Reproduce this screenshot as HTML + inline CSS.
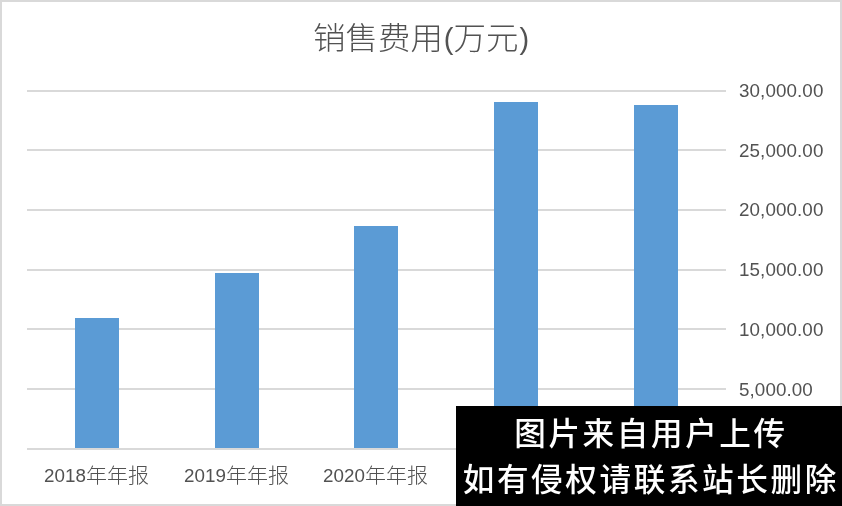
<!DOCTYPE html>
<html lang="zh-CN">
<head>
<meta charset="utf-8">
<title>销售费用(万元)</title>
<style>
html,body{margin:0;padding:0;background:#fff;}
body{width:842px;height:506px;overflow:hidden;position:relative;}
#chart{position:absolute;left:0;top:0;width:842px;height:506px;box-sizing:border-box;border:2px solid #d9d9d9;background:#fff;overflow:hidden;}
.grid{position:absolute;left:27px;width:699px;height:2px;background:#d9d9d9;}
.bar{position:absolute;width:44px;background:#5b9bd5;}
.ylab{position:absolute;left:739px;font-family:"Liberation Sans",sans-serif;font-size:18.8px;letter-spacing:0.1px;line-height:20px;color:#525252;white-space:nowrap;}
.xlab{position:absolute;top:462px;width:160px;text-align:center;color:#525252;white-space:nowrap;line-height:26px;font-size:0;}
.xlab .n{font-family:"Liberation Sans",sans-serif;font-size:18.8px;font-weight:400;display:inline-block;vertical-align:baseline;}
.xlab .c{font-family:"Liberation Sans","Noto Sans CJK SC",sans-serif;font-size:21px;font-weight:300;display:inline-block;vertical-align:baseline;transform:scaleY(0.95);transform-origin:50% 78%;position:relative;top:0.6px;}
#title{position:absolute;left:0;top:16px;width:842px;text-align:center;color:#525252;font-size:0;line-height:44px;white-space:nowrap;}
#title .c{font-family:"Liberation Sans","Noto Sans CJK SC",sans-serif;font-weight:300;font-size:32.5px;display:inline-block;vertical-align:baseline;transform:scaleY(0.96);transform-origin:50% 78%;}
#title .p{font-family:"Liberation Sans",sans-serif;font-size:29px;font-weight:400;display:inline-block;vertical-align:baseline;margin-left:0.9px;}
#wm{position:absolute;left:456px;top:406px;width:386px;height:100px;background:#000;color:#fff;font-family:"Liberation Sans","Noto Sans CJK SC",sans-serif;font-weight:500;font-size:31.6px;letter-spacing:2.6px;line-height:46px;white-space:nowrap;}
#wm div{position:absolute;left:0;width:388.6px;text-align:center;}
</style>
</head>
<body>
<div id="chart"></div>
<div id="title"><span class="c">销售费用</span><span class="p">(</span><span class="c">万元</span><span class="p">)</span></div>

<div class="grid" style="top:90px"></div>
<div class="grid" style="top:149px"></div>
<div class="grid" style="top:209px"></div>
<div class="grid" style="top:269px"></div>
<div class="grid" style="top:328px"></div>
<div class="grid" style="top:388px"></div>
<div class="grid" style="top:448px"></div>

<div class="bar" style="left:75px;top:318px;height:130px"></div>
<div class="bar" style="left:215px;top:273px;height:175px"></div>
<div class="bar" style="left:354px;top:226px;height:222px"></div>
<div class="bar" style="left:494px;top:102px;height:346px"></div>
<div class="bar" style="left:634px;top:105px;height:343px"></div>

<div class="ylab" style="top:81px">30,000.00</div>
<div class="ylab" style="top:141px">25,000.00</div>
<div class="ylab" style="top:200px">20,000.00</div>
<div class="ylab" style="top:260px">15,000.00</div>
<div class="ylab" style="top:320px">10,000.00</div>
<div class="ylab" style="top:380px">5,000.00</div>

<div class="xlab" style="left:16.5px"><span class="n">2018</span><span class="c">年年报</span></div>
<div class="xlab" style="left:156.5px"><span class="n">2019</span><span class="c">年年报</span></div>
<div class="xlab" style="left:295.5px"><span class="n">2020</span><span class="c">年年报</span></div>

<div id="wm"><div style="top:4.8px;left:0.7px">图片来自用户上传</div><div style="top:51px;left:0.5px">如有侵权请联系站长删除</div></div>
</body>
</html>
